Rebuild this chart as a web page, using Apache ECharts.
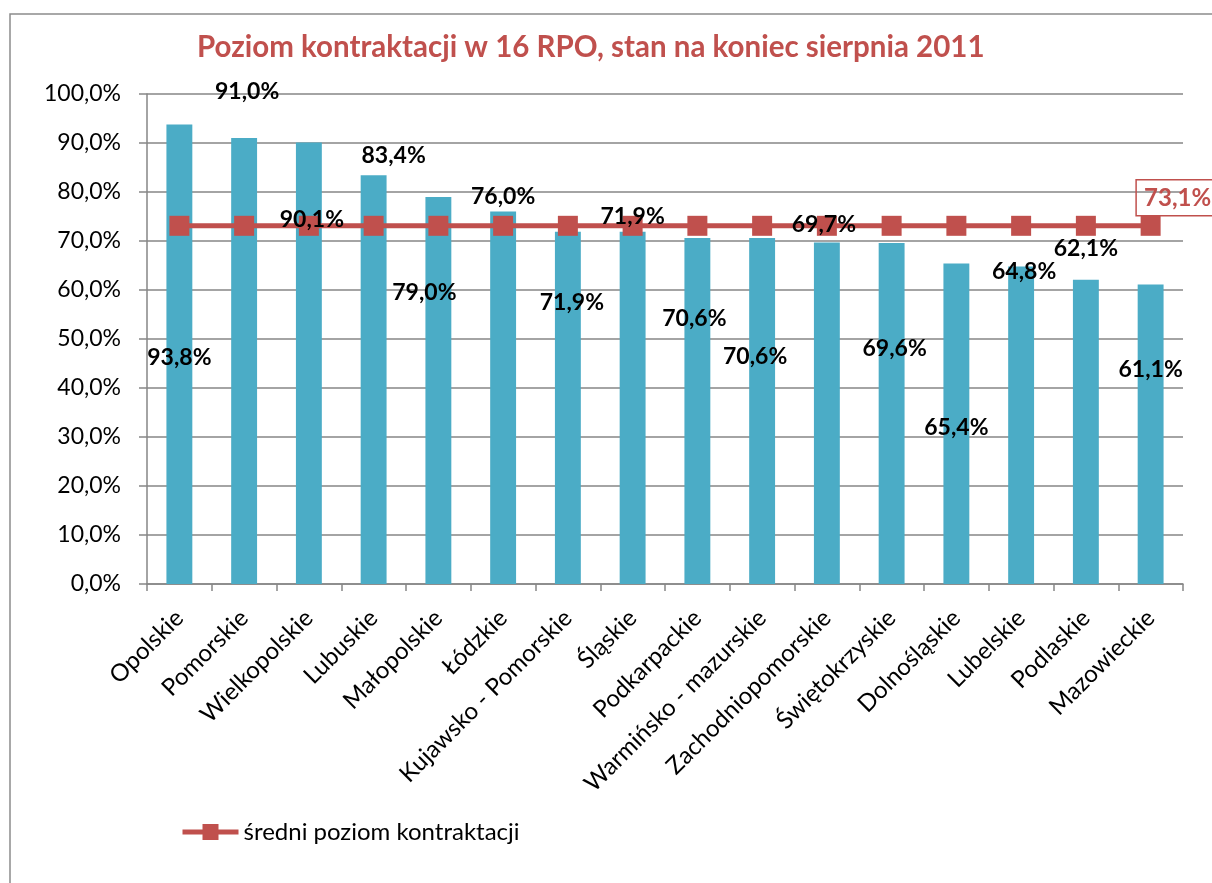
<!DOCTYPE html>
<html><head><meta charset="utf-8">
<script src="https://cdn.jsdelivr.net/npm/echarts@6/dist/echarts.min.js"></script>
<style>html,body{margin:0;padding:0;background:#fff}#c{width:1212px;height:883px}</style>
</head><body><div id="c"></div>
<script>
const titleText = 'Poziom kontraktacji w 16 RPO, stan na koniec sierpnia 2011';
const categories = ['Opolskie','Pomorskie','Wielkopolskie','Lubuskie','Małopolskie','Łódzkie','Kujawsko - Pomorskie','Śląskie','Podkarpackie','Warmińsko - mazurskie','Zachodniopomorskie','Świętokrzyskie','Dolnośląskie','Lubelskie','Podlaskie','Mazowieckie'];
const contractLevel = [93.8,91.0,90.1,83.4,79.0,76.0,71.9,71.9,70.6,70.6,69.7,69.6,65.4,64.8,62.1,61.1];
const averageLevel = [73.1,73.1,73.1,73.1,73.1,73.1,73.1,73.1,73.1,73.1,73.1,73.1,73.1,73.1,73.1,73.1];
const averageName = 'średni poziom kontraktacji';
const yTicks = {min:0, max:100, interval:10};

// label layout (pixel offsets of each bar's value label from the bar top centre)
const labelShift = [[0,233],[3,-47],[3,77],[20,-20],[-14,96],[0,-15],[4,71],[0,-15],[-3,81],[-7,119],[-3,-18],[3,106],[0,164],[3,5],[0,-31],[0,85]];

const fmt = v => v.toFixed(1).replace('.', ',') + '%';
const FONT = 'Lato';
const RED = '#C0504D';

const chart = echarts.init(document.getElementById('c'));
chart.setOption({
  animation:false,
  textStyle:{fontFamily:FONT},
  title:{text:titleText, left:192, top:27, textStyle:{color:RED, fontSize:29.5, fontWeight:'bold', fontFamily:FONT}},
  graphic:[{type:'rect', shape:{x:10,y:14,width:1220,height:900}, style:{fill:'none', stroke:'#8c8c8c', lineWidth:1.5}, silent:true, z:-1}],
  grid:{left:147, right:29, top:94, bottom:299},
  legend:{left:180, top:820, padding:0, itemWidth:56, itemHeight:20, itemGap:4, textStyle:{fontSize:24, color:'#000', fontFamily:FONT},
    lineStyle:{width:5, color:RED},
    data:[averageName]},
  xAxis:{type:'category', data:categories,
    axisLine:{lineStyle:{color:'#868686', width:1.5}},
    axisTick:{show:true, length:7, lineStyle:{color:'#868686', width:1.5}},
    axisLabel:{rotate:45, interval:0, fontSize:24, color:'#000', margin:30, fontFamily:FONT}},
  yAxis:{type:'value', min:yTicks.min, max:yTicks.max, interval:yTicks.interval,
    axisLine:{show:true, lineStyle:{color:'#868686', width:1.5}},
    axisTick:{show:true, length:8, lineStyle:{color:'#868686', width:1.5}},
    splitLine:{lineStyle:{color:'#868686', width:1.5}},
    axisLabel:{fontSize:23, color:'#000', margin:26, formatter:v=>fmt(v), fontFamily:FONT}},
  series:[
    {type:'bar', name:'poziom kontraktacji', barWidth:'40%',
      itemStyle:{color:'#4BACC6'}, data:contractLevel, z:2},
    {type:'line', name:averageName, data:averageLevel.map((v,i)=> i===averageLevel.length-1 ? {value:v, label:{show:true, position:'top', offset:[26,5], color:RED, fontSize:24, fontWeight:'bold', borderColor:RED, borderWidth:1.5, padding:[6,6,6,8], formatter:p=>fmt(p.value)}} : v),
      symbol:'rect', symbolSize:20, lineStyle:{color:RED, width:5}, itemStyle:{color:RED}, z:3},
    {type:'bar', name:'etykiety', barWidth:'40%', barGap:'-100%', zlevel:1, silent:true,
      itemStyle:{color:'rgba(0,0,0,0)'},
      data:contractLevel.map((v,i)=>({value:v, label:{offset:labelShift[i]}})),
      label:{show:true, position:['50%',0], align:'center', verticalAlign:'middle', fontSize:23, fontWeight:'bold', color:'#000', fontFamily:FONT, formatter:p=>fmt(p.value)}}
  ]
});
</script></body></html>
